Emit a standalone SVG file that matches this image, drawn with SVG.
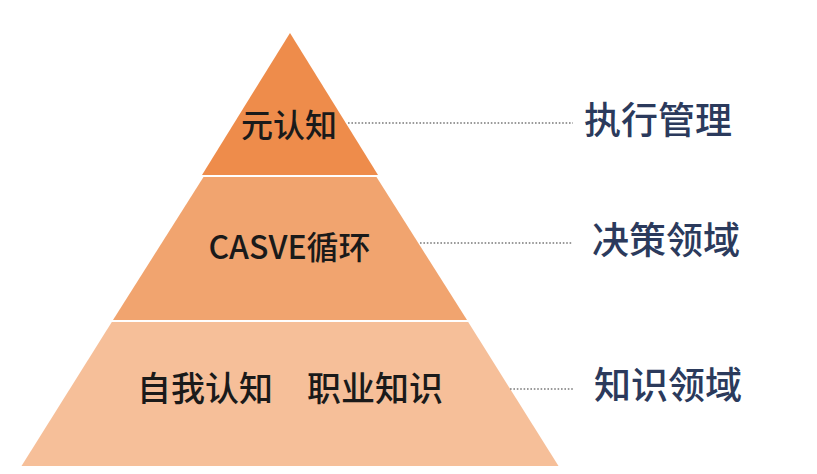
<svg xmlns="http://www.w3.org/2000/svg" width="817" height="474" viewBox="0 0 817 474">
<style>
.lbl{font-family:"Noto Sans CJK SC","Noto Sans",sans-serif;font-weight:500;fill:#1a1a1a;text-anchor:middle;dominant-baseline:central}
.side{font-family:"Noto Sans CJK SC","Noto Sans",sans-serif;font-weight:500;fill:#2b3a5c;font-size:37px;dominant-baseline:central}
.dot{stroke:#7a7a7a;stroke-width:1.6;stroke-dasharray:1.6 1.8;fill:none}
</style>
<rect width="817" height="474" fill="#ffffff"/>
<g id="tier-top">
<polygon points="290,33 378,175 202,175" fill="#ee8c4b"/>
<text class="lbl" x="289" y="123" font-size="32">元认知</text>
</g>
<g id="tier-middle">
<polygon points="203.5,177 376.5,177 467,320 113,320" fill="#f1a46f"/>
<text class="lbl" x="289.5" y="245" font-size="32">CASVE循环</text>
</g>
<g id="tier-bottom">
<polygon points="111.8,322 468.2,322 558.5,466 21.5,466" fill="#f6bf99"/>
<text class="lbl" x="290" y="386" font-size="34" xml:space="preserve">自我认知　职业知识</text>
</g>
<g id="connectors">
<line class="dot" x1="348" y1="123" x2="573" y2="123"/>
<line class="dot" x1="420" y1="243" x2="573" y2="243"/>
<line class="dot" x1="510" y1="389" x2="573" y2="389"/>
</g>
<g id="label-exec"><text class="side" x="584" y="118">执行管理</text></g>
<g id="label-decision"><text class="side" x="592" y="238">决策领域</text></g>
<g id="label-knowledge"><text class="side" x="594" y="383">知识领域</text></g>
</svg>
